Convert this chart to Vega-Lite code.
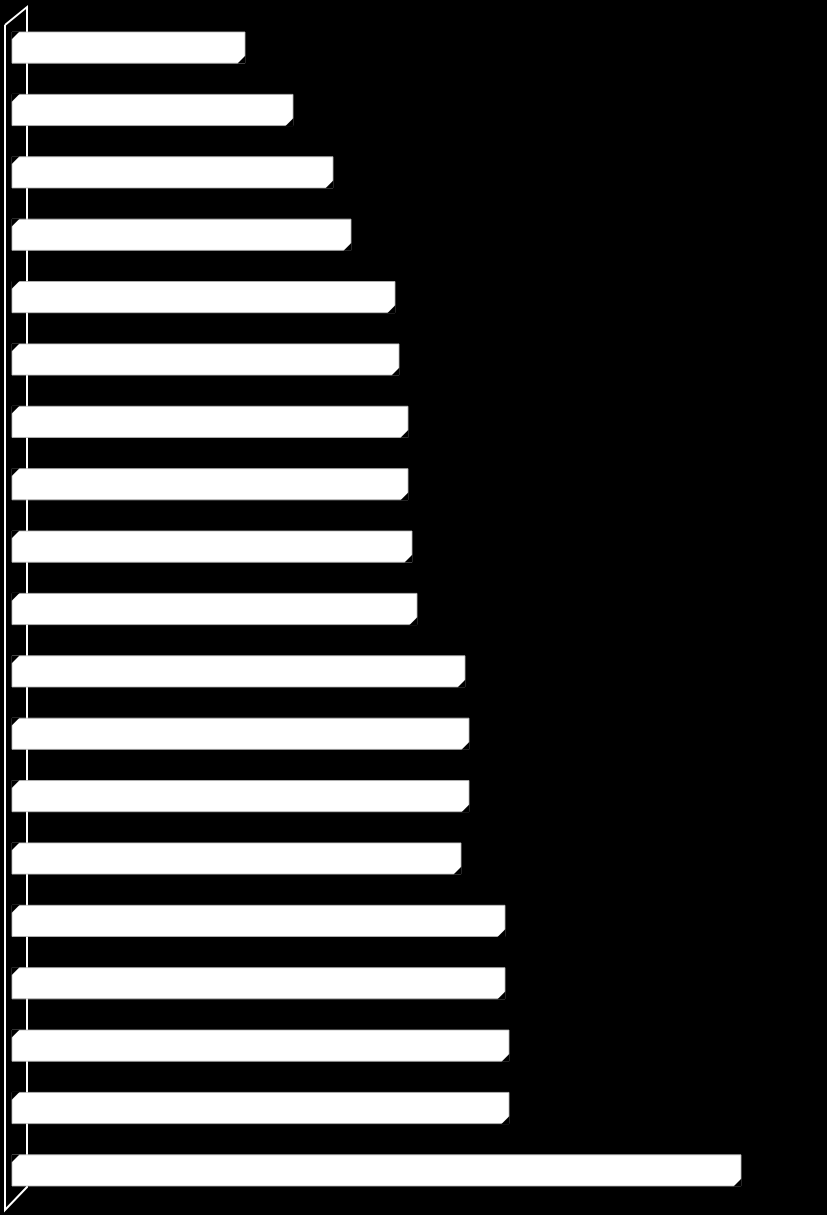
{
  "$schema": "https://vega.github.io/schema/vega-lite/v6.json",
  "width": 827,
  "height": 1215,
  "padding": 0,
  "autosize": {"type": "none"},
  "background": "black",
  "config": {"view": {"stroke": null}},
  "datasets": {
    "bars": [
      {"item": "1", "value": 233},
      {"item": "2", "value": 281},
      {"item": "3", "value": 321},
      {"item": "4", "value": 339},
      {"item": "5", "value": 383},
      {"item": "6", "value": 387},
      {"item": "7", "value": 396},
      {"item": "8", "value": 396},
      {"item": "9", "value": 400},
      {"item": "10", "value": 405},
      {"item": "11", "value": 453},
      {"item": "12", "value": 457},
      {"item": "13", "value": 457},
      {"item": "14", "value": 449},
      {"item": "15", "value": 493},
      {"item": "16", "value": 493},
      {"item": "17", "value": 497},
      {"item": "18", "value": 497},
      {"item": "19", "value": 729}
    ],
    "wall": [
      {"step": 1, "x": -7, "y": 25},
      {"step": 2, "x": 15, "y": 7},
      {"step": 3, "x": 15, "y": 1187},
      {"step": 4, "x": -7, "y": 1210},
      {"step": 5, "x": -7, "y": 25}
    ]
  },
  "layer": [
    {
      "data": {"name": "wall"},
      "mark": {"type": "line", "color": "white", "strokeWidth": 2},
      "encoding": {
        "x": {"field": "x", "type": "quantitative", "scale": {"domain": [-12, 815]}, "axis": null},
        "y": {"field": "y", "type": "quantitative", "scale": {"domain": [1215, 0], "nice": false, "zero": false}, "axis": null},
        "order": {"field": "step"}
      }
    },
    {
      "data": {"name": "bars"},
      "layer": [
        {
          "mark": {"type": "bar", "color": "white", "stroke": "#bbbbbb", "strokeWidth": 0.8},
          "encoding": {
            "x": {"field": "value", "type": "quantitative", "scale": {"domain": [-12, 815]}, "axis": null},
            "x2": {"datum": 0}
          }
        },
        {
          "mark": {"type": "point", "shape": "M -1 1 L 1 1 L 1 -1 Z", "filled": true, "color": "black", "opacity": 1, "size": 64, "xOffset": -3.5, "yOffset": 12},
          "encoding": {
            "x": {"field": "value", "type": "quantitative", "scale": {"domain": [-12, 815]}, "axis": null}
          }
        },
        {
          "mark": {"type": "point", "shape": "M -1 -1 L 1 -1 L -1 1 Z", "filled": true, "color": "black", "opacity": 1, "size": 64, "xOffset": 3.5, "yOffset": -12},
          "encoding": {
            "x": {"datum": 0, "type": "quantitative", "scale": {"domain": [-12, 815]}, "axis": null}
          }
        }
      ],
      "encoding": {
        "y": {"field": "item", "type": "nominal", "sort": null, "axis": null,
              "scale": {"range": [32, 1186], "paddingInner": 0.5, "paddingOuter": 0}}
      }
    }
  ],
  "resolve": {"scale": {"y": "independent"}}
}
